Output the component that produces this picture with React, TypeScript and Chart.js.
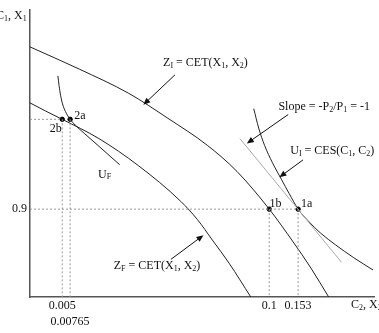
import React, { useEffect, useRef } from 'react';
import { Chart, registerables } from 'chart.js';

Chart.register(...registerables);

// Schematic diagram: units are arbitrary (x: 0..349, y: 0..297)
const zIx = [0, 50, 100, 140, 180, 210, 242.7, 267, 285, 303];
const zIy = [259, 236, 211, 185, 157, 130, 91, 57, 30, 0];

const zFx = [0, 16, 32.7, 70, 110, 153, 170, 185, 202, 224];
const zFy = [201, 192.5, 184, 164, 136, 99, 80, 59, 35, 0];

const uFx = [28.3, 29.5, 31, 33, 36, 40.7, 46, 55, 70, 91];
const uFy = [229, 219, 209, 200, 192, 184, 178, 169.5, 156, 137];

const uIx = [227, 232, 238, 246, 255, 263, 272, 282, 295, 310, 328, 348];
const uIy = [195, 175, 157, 139, 122, 107, 91, 79, 66, 54, 41, 28];

const priceX = [213, 316];
const priceY = [164, 36];

// equilibrium points: 2b, 2a, 1b, 1a
const ptNames = ['2b', '2a', '1b', '1a'];
const ptX = [32.7, 40.7, 242.7, 272];
const ptY = [184, 184, 91, 91];

const xTickValues = [32.7, 40.7, 242.7, 272];
const xTickLabels: (string | string[])[] = ['0.005', ['', '0.00765'], '0.1', '0.153'];
const yTickValues = [91];
const yTickLabels = ['0.9'];

const labelTexts = [
  'Z_{I} = CET(X_{1}, X_{2})',
  'Slope = -P_{2}/P_{1} = -1',
  'U_{I} = CES(C_{1}, C_{2})',
  'Z_{F} = CET(X_{1}, X_{2})',
  'U_{F}',
  '2a',
  '2b',
  '1a',
  '1b',
];
const labelX = [135, 252, 264, 85, 69, 45, 20, 275, 243];
const labelY = [242, 197, 151, 32, 127, 187.5, 174, 96, 96];

// arrows: start -> tip
const arrowX0 = [147, 262, 277, 143];
const arrowY0 = [230, 189, 142, 39];
const arrowX1 = [115, 220, 253, 176];
const arrowY1 = [199, 159, 124, 64];

const yTitle = 'C_{1}, X_{1}';
const xTitle = 'C_{2}, X_{2}';

const FONT = '"Liberation Serif", "Times New Roman", serif';

const zip = (xs: number[], ys: number[]) => xs.map((x, i) => ({ x, y: ys[i] }));

function drawRich(ctx: CanvasRenderingContext2D, str: string, x: number, cy: number) {
  const parts: [string, boolean][] = [];
  const re = /_\{([^}]*)\}/g;
  let last = 0;
  let m: RegExpExecArray | null;
  while ((m = re.exec(str))) {
    if (m.index > last) parts.push([str.slice(last, m.index), false]);
    parts.push([m[1], true]);
    last = m.index + m[0].length;
  }
  if (last < str.length) parts.push([str.slice(last), false]);
  ctx.textBaseline = 'middle';
  ctx.textAlign = 'left';
  ctx.fillStyle = '#111';
  let cx = x;
  for (const [t, sub] of parts) {
    ctx.font = (sub ? '8px ' : '12px ') + FONT;
    ctx.fillText(t, cx, sub ? cy + 3 : cy);
    cx += ctx.measureText(t).width;
  }
}

function drawArrow(ctx: CanvasRenderingContext2D, x0: number, y0: number, x1: number, y1: number) {
  const ang = Math.atan2(y1 - y0, x1 - x0);
  const len = 7;
  const hw = 3;
  ctx.strokeStyle = '#111';
  ctx.lineWidth = 1;
  ctx.beginPath();
  ctx.moveTo(x0, y0);
  ctx.lineTo(x1 - Math.cos(ang) * len * 0.8, y1 - Math.sin(ang) * len * 0.8);
  ctx.stroke();
  ctx.fillStyle = '#111';
  ctx.beginPath();
  ctx.moveTo(x1, y1);
  ctx.lineTo(x1 - Math.cos(ang) * len + Math.sin(ang) * hw, y1 - Math.sin(ang) * len - Math.cos(ang) * hw);
  ctx.lineTo(x1 - Math.cos(ang) * len - Math.sin(ang) * hw, y1 - Math.sin(ang) * len + Math.cos(ang) * hw);
  ctx.closePath();
  ctx.fill();
}

const annotPlugin = {
  id: 'annot',
  afterDatasetsDraw(chart: any) {
    const { ctx, scales, chartArea } = chart;
    const xs = scales.x;
    const ys = scales.y;
    ctx.save();
    for (let i = 0; i < arrowX0.length; i++) {
      drawArrow(
        ctx,
        xs.getPixelForValue(arrowX0[i]),
        ys.getPixelForValue(arrowY0[i]),
        xs.getPixelForValue(arrowX1[i]),
        ys.getPixelForValue(arrowY1[i])
      );
    }
    for (let i = 0; i < labelTexts.length; i++) {
      drawRich(ctx, labelTexts[i], xs.getPixelForValue(labelX[i]), ys.getPixelForValue(labelY[i]));
    }
    drawRich(ctx, yTitle, chartArea.left - 34, chartArea.top + 6);
    drawRich(ctx, xTitle, chartArea.right - 23, chartArea.bottom + 8);
    ctx.restore();
  },
};

export default function App() {
  const ref = useRef<HTMLCanvasElement | null>(null);
  useEffect(() => {
    if (!ref.current) return;
    const curve = (data: { x: number; y: number }[], color = '#222') => ({
      data,
      borderColor: color,
      borderWidth: 1,
      pointRadius: 0,
      showLine: true,
      fill: false,
      cubicInterpolationMode: 'monotone' as const,
    });
    const dashed = (data: { x: number; y: number }[]) => ({
      data,
      borderColor: '#999',
      borderWidth: 1,
      borderDash: [2, 2],
      pointRadius: 0,
      showLine: true,
      fill: false,
    });
    const chart = new Chart(ref.current, {
      type: 'scatter',
      data: {
        datasets: [
          dashed([{ x: 0, y: ptY[0] }, { x: ptX[0], y: ptY[0] }]),
          dashed([{ x: ptX[0], y: ptY[0] }, { x: ptX[0], y: 0 }]),
          dashed([{ x: ptX[1], y: ptY[1] }, { x: ptX[1], y: 0 }]),
          dashed([{ x: 0, y: ptY[2] }, { x: ptX[3], y: ptY[3] }]),
          dashed([{ x: ptX[2], y: ptY[2] }, { x: ptX[2], y: 0 }]),
          dashed([{ x: ptX[3], y: ptY[3] }, { x: ptX[3], y: 0 }]),
          { ...curve(zip(priceX, priceY), '#aaa'), cubicInterpolationMode: 'default' as const },
          curve(zip(zIx, zIy)),
          curve(zip(zFx, zFy)),
          curve(zip(uFx, uFy)),
          curve(zip(uIx, uIy)),
          {
            data: zip(ptX, ptY),
            pointRadius: 2.2,
            pointBackgroundColor: '#000',
            pointBorderColor: '#000',
            showLine: false,
          },
        ],
      },
      options: {
        animation: false,
        responsive: false,
        events: [],
        layout: { padding: 0 },
        plugins: { legend: { display: false }, tooltip: { enabled: false } },
        scales: {
          x: {
            type: 'linear',
            min: 0,
            max: 349,
            grid: { display: false, drawTicks: false },
            border: { display: true, color: '#555', width: 1.5 },
            afterBuildTicks: (s: any) => {
              s.ticks = xTickValues.map((v) => ({ value: v }));
            },
            afterFit: (s: any) => {
              s.height = 36;
            },
            ticks: {
              autoSkip: false,
              maxRotation: 0,
              padding: 0,
              color: '#111',
              font: { family: FONT, size: 12, lineHeight: 1.4 },
              callback: (v: any) => {
                const i = xTickValues.indexOf(Number(v));
                return i >= 0 ? xTickLabels[i] : '';
              },
            },
          },
          y: {
            type: 'linear',
            min: 0,
            max: 297,
            grid: { display: false, drawTicks: false },
            border: { display: true, color: '#555', width: 1.5 },
            afterBuildTicks: (s: any) => {
              s.ticks = yTickValues.map((v) => ({ value: v }));
            },
            afterFit: (s: any) => {
              s.width = 30;
            },
            ticks: {
              autoSkip: false,
              padding: 3,
              color: '#111',
              font: { family: FONT, size: 12 },
              callback: (v: any) => {
                const i = yTickValues.indexOf(Number(v));
                return i >= 0 ? yTickLabels[i] : '';
              },
            },
          },
        },
      },
      plugins: [annotPlugin],
    });
    return () => chart.destroy();
  }, []);
  return (
    <div style={{ position: 'fixed', left: 0, top: 0, width: 379, height: 333, background: '#fff' }}>
      <canvas ref={ref} width={379} height={333} />
    </div>
  );
}
